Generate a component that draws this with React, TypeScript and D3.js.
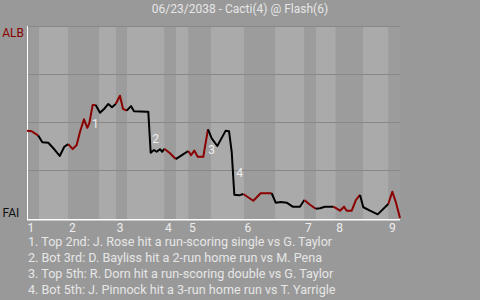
import React from "react";
import * as d3 from "d3";

const title = "06/23/2038 - Cacti(4) @ Flash(6)";
const awayTeam = "ALB";
const homeTeam = "FAI";

// start (in play units) of each half inning; game ends at 100
const halfStarts = [0, 3.2, 11.1, 19.3, 23.9, 26.8, 36.85, 39.9, 43.3, 49.3, 58.2, 66.5, 74.4, 77.45, 82.8, 90.08, 96.9];
const gameEnd = 100;
const innings = ["1", "2", "3", "4", "5", "6", "7", "8", "9"];

// play progress and away-team win probability
const plays = [
  0, 1.26, 3.03, 4.1, 5.71, 7.32, 8.77, 10.0, 11.07, 12.25, 13.32, 14.21, 15.28, 16.17, 16.7, 17.61, 18.42,
  19.57, 20.72, 21.8, 22.79, 23.78, 24.93, 25.74, 26.73, 27.88, 28.69, 32.09, 32.52, 33.16, 34.05, 34.77,
  35.66, 36.27, 36.81, 38.34, 39.87, 41.74, 43.24, 43.97, 44.85, 45.76, 47.27, 47.64, 48.53, 49.52, 51.02,
  53.27, 54.16, 54.88, 55.58, 56.84, 57.99, 60.67, 62.65, 65.6, 66.68, 68.1, 69.62, 71.23, 73.19, 74.34,
  75.6, 77.4, 78.55, 79.89, 82.12, 82.84, 83.91, 84.99, 85.71, 87.05, 88.2, 89.28, 90.16, 91.96, 94.02,
  96.86, 97.94, 98.93, 100,
];
const winProb = [
  0.455, 0.452, 0.429, 0.394, 0.392, 0.358, 0.323, 0.371, 0.385, 0.359, 0.38, 0.449, 0.514, 0.47, 0.493, 0.589, 0.589,
  0.548, 0.569, 0.594, 0.577, 0.594, 0.637, 0.568, 0.559, 0.583, 0.556, 0.554, 0.554, 0.34, 0.354, 0.345,
  0.358, 0.345, 0.361, 0.337, 0.307, 0.33, 0.349, 0.327, 0.351, 0.319, 0.319, 0.363, 0.462, 0.415, 0.375,
  0.455, 0.452, 0.345, 0.121, 0.118, 0.125, 0.09, 0.129, 0.129, 0.08, 0.083, 0.08, 0.059, 0.059, 0.094,
  0.073, 0.048, 0.051, 0.059, 0.059, 0.051, 0.038, 0.059, 0.038, 0.038, 0.094, 0.12, 0.056, 0.038, 0.019,
  0.073, 0.137, 0.08, 0,
];

const annoLabels = ["1", "2", "3", "4"];
const annoX = [17.45, 33.6, 48.6, 56.1];
const annoWp = [0.469, 0.389, 0.333, 0.215];

const notes = [
  "1. Top 2nd: J. Rose hit a run-scoring single vs G. Taylor",
  "2. Bot 3rd: D. Bayliss hit a 2-run home run vs M. Pena",
  "3. Top 5th: R. Dorn hit a run-scoring double vs G. Taylor",
  "4. Bot 5th: J. Pinnock hit a 3-run home run vs T. Yarrigle",
];

const gridVals = [0.25, 0.5, 0.75, 1];

export default function App() {
  const W = 480, H = 300;
  const x = d3.scaleLinear().domain([0, gameEnd]).range([27, 400]);
  const y = d3.scaleLinear().domain([0, 1]).range([218, 26]);
  const font = "Roboto, 'Open Sans', sans-serif";

  const halfOf = (p: number) => {
    let h = 0;
    for (let i = 0; i < halfStarts.length; i++) if (halfStarts[i] < p) h = i;
    return h;
  };

  // group segments by colour
  const groups: { color: string; pts: [number, number][] }[] = [];
  for (let i = 1; i < plays.length; i++) {
    const color = halfOf(plays[i]) % 2 === 0 ? "#8b0000" : "#000000";
    const last = groups[groups.length - 1];
    if (last && last.color === color) {
      last.pts.push([plays[i], winProb[i]]);
    } else {
      groups.push({ color, pts: [[plays[i - 1], winProb[i - 1]], [plays[i], winProb[i]]] });
    }
  }
  const line = d3.line<[number, number]>().x((d) => x(d[0])).y((d) => y(d[1]));

  const bands = halfStarts.map((s, i) => ({
    x0: s,
    x1: i + 1 < halfStarts.length ? halfStarts[i + 1] : gameEnd,
    top: i % 2 === 0,
  }));

  return (
    <svg width={W} height={H} style={{ position: "absolute", left: 0, top: 0, display: "block" }} fontFamily={font}>
      <rect x={0} y={0} width={W} height={H} fill="#999999" />
      <text x={240} y={13} textAnchor="middle" fontSize={12} fill="#e6e6e6">{title}</text>
      {bands.map((b, i) => (
        <rect key={i} x={x(b.x0)} y={y(1)} width={x(b.x1) - x(b.x0)} height={y(0) - y(1) + 1}
          fill={b.top ? "#9c9c9c" : "#aaaaaa"} />
      ))}
      {gridVals.map((g) => (
        <line key={g} x1={x(0)} x2={x(gameEnd)} y1={y(g) + 0.5} y2={y(g) + 0.5} stroke="#888888" strokeWidth={1} />
      ))}
      <line x1={27.5} x2={27.5} y1={y(1)} y2={220} stroke="#ffffff" strokeWidth={1} />
      <line x1={27} x2={x(gameEnd)} y1={219.7} y2={219.7} stroke="#ffffff" strokeWidth={1.5} />
      {groups.map((g, i) => (
        <path key={i} d={line(g.pts) || ""} fill="none" stroke={g.color} strokeWidth={2} strokeLinejoin="round" />
      ))}
      {annoLabels.map((l, i) => (
        <text key={l} x={x(annoX[i])} y={y(annoWp[i])} fontSize={12} fill="#eeeeee">{l}</text>
      ))}
      {innings.map((t, i) => (
        <text key={t} x={x(halfStarts[i * 2]) + 0.5} y={232} fontSize={12} fill="#eeeeee">{t}</text>
      ))}
      <text x={24} y={36.5} textAnchor="end" fontSize={12} fill="#8b0000">{awayTeam}</text>
      <text x={2.5} y={216.5} fontSize={12} fill="#111111">{homeTeam}</text>
      {notes.map((n, i) => (
        <text key={i} x={28} y={245.7 + i * 16} fontSize={12.6} fill="#e6e6e6">{n}</text>
      ))}
    </svg>
  );
}
